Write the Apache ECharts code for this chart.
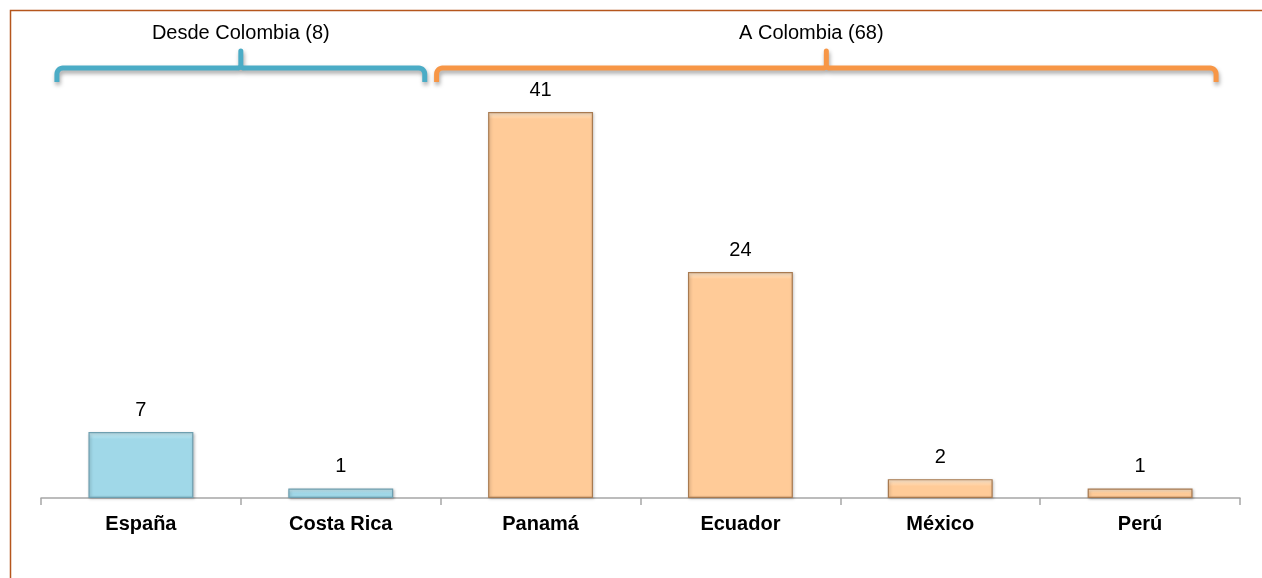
<!DOCTYPE html>
<html>
<head>
<meta charset="utf-8">
<script src="https://cdn.jsdelivr.net/npm/echarts@6/dist/echarts.min.js"></script>
<style>
html,body{margin:0;padding:0;background:#fff;}
#c{width:1262px;height:578px;}
</style>
</head>
<body>
<div id="c"></div>
<script>
var categories = ['España', 'Costa Rica', 'Panamá', 'Ecuador', 'México', 'Perú'];
var values = [7, 1, 41, 24, 2, 1];
var barGroup = [0, 0, 1, 1, 1, 1];
var groupLabels = ['Desde Colombia (8)', 'A Colombia (68)'];
var groupFirst = [0, 2];
var groupLast = [1, 5];

var FONT = '"Liberation Sans", Arial, sans-serif';
var fills = ['#A0D8E8', '#FFCB98'];
var borders = ['#6E9FB0', '#A87A50'];
var braceColors = ['#4BACC6', '#F79646'];
var braceLeftPad = [84, 104];
var braceRightPad = [84, 76];
var labelShift = [0, -15];

var chart = echarts.init(document.getElementById('c'), null, {renderer: 'canvas'});

var data = values.map(function (v, i) {
  var g = barGroup[i];
  return {
    value: v,
    itemStyle: {
      color: {
        type: 'linear', x: 0, y: 0, x2: 0, y2: 1,
        colorStops: [
          {offset: 0, color: g === 0 ? '#CDEEF6' : '#FFEBD2'},
          {offset: Math.min(0.5, 7 / (v * 9.4)), color: fills[g]},
          {offset: 1, color: fills[g]}
        ]
      },
      borderColor: borders[g],
      borderWidth: 1.2,
      shadowColor: 'rgba(0,0,0,0.25)',
      shadowBlur: 3,
      shadowOffsetX: 1,
      shadowOffsetY: 1
    }
  };
});

chart.setOption({
  animation: false,
  grid: {left: 41, right: 22, top: 112, bottom: 80},
  xAxis: {
    type: 'category',
    data: categories,
    axisLine: {lineStyle: {color: '#A6A6A6', width: 1.5}},
    axisTick: {show: true, length: 7, lineStyle: {color: '#A6A6A6', width: 1.5}},
    axisLabel: {
      fontFamily: FONT, fontSize: 20, fontWeight: 'bold', color: '#000', margin: 16
    }
  },
  yAxis: {
    type: 'value', min: 0, max: 41, show: false, splitLine: {show: false}
  },
  series: [{
    type: 'bar',
    data: data,
    barWidth: '52.5%',
    label: {
      show: true, position: 'top', distance: 12,
      fontFamily: FONT, fontSize: 20, color: '#000'
    }
  }]
});

function arcPts(cx, cy, r, a0, a1) {
  var pts = [];
  for (var k = 0; k <= 6; k++) {
    var a = a0 + (a1 - a0) * k / 6;
    pts.push([cx + r * Math.cos(a), cy + r * Math.sin(a)]);
  }
  return pts;
}

function drawBraces() {
  var elements = [{
    type: 'rect',
    shape: {x: 10.5, y: 10.5, width: 1300, height: 700},
    style: {fill: 'none', stroke: '#B5561C', lineWidth: 1.5},
    silent: true
  }];
  var PI = Math.PI;
  for (var g = 0; g < groupLabels.length; g++) {
    var x1 = chart.convertToPixel({xAxisIndex: 0}, groupFirst[g]) - braceLeftPad[g];
    var x2 = chart.convertToPixel({xAxisIndex: 0}, groupLast[g]) + braceRightPad[g];
    var mid = (x1 + x2) / 2;
    var yH = 68, yEnd = 82, yTop = 51, r = 6, rm = 3;
    var pts = [[x1, yEnd]];
    pts = pts.concat(arcPts(x1 + r, yH + r, r, PI, 1.5 * PI));
    pts = pts.concat(arcPts(mid - rm, yH - rm, rm, 0.5 * PI, 0));
    pts.push([mid, yTop]);
    pts.push([mid, yH - rm]);
    pts = pts.concat(arcPts(mid + rm, yH - rm, rm, PI, 0.5 * PI));
    pts = pts.concat(arcPts(x2 - r, yH + r, r, 1.5 * PI, 2 * PI));
    pts.push([x2, yEnd]);
    elements.push({
      type: 'polyline',
      shape: {points: pts},
      style: {
        fill: null, stroke: braceColors[g], lineWidth: 5, lineCap: 'butt', lineJoin: 'round',
        shadowColor: 'rgba(0,0,0,0.35)', shadowBlur: 4, shadowOffsetX: 1, shadowOffsetY: 3
      },
      silent: true
    });
    elements.push({
      type: 'text',
      x: mid + labelShift[g], y: 33,
      style: {
        text: groupLabels[g], fontFamily: FONT, fontSize: 20, fill: '#000',
        align: 'center', verticalAlign: 'middle'
      },
      silent: true
    });
  }
  chart.setOption({graphic: {elements: elements}});
}
drawBraces();
</script>
</body>
</html>
